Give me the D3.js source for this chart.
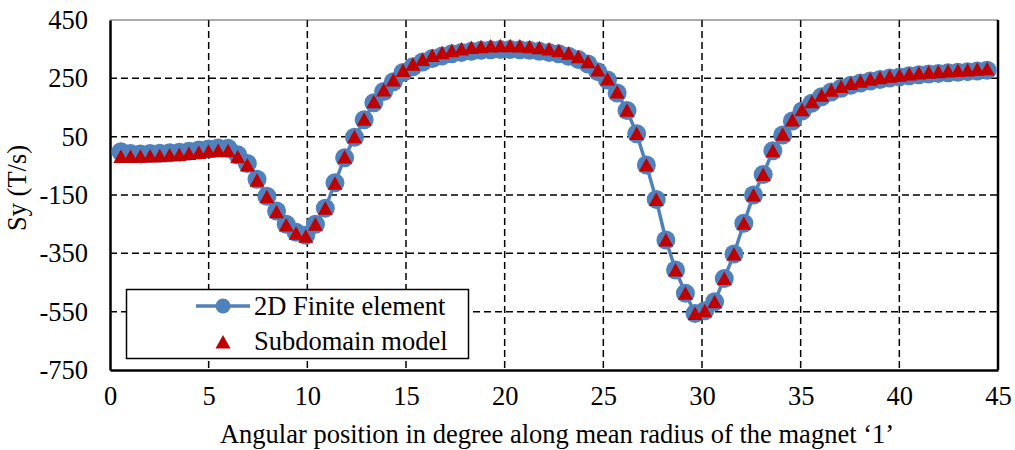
<!DOCTYPE html>
<html>
<head>
<meta charset="utf-8">
<script src="https://cdn.jsdelivr.net/npm/d3@7"></script>
<style>
body { margin: 0; background: #fff; }
text { font-family: "Liberation Serif", "Times New Roman", serif; fill: #000; }
</style>
</head>
<body>
<div id="chart"></div>
<script>
// angular position (deg) of each sample
var angles = [0.55, 1.04, 1.54, 2.03, 2.52, 3.02, 3.51, 4.00, 4.50, 4.99,
  5.48, 5.98, 6.47, 6.96, 7.45, 7.95, 8.44, 8.93, 9.43, 9.92,
  10.41, 10.91, 11.40, 11.89, 12.39, 12.88, 13.37, 13.87, 14.36, 14.85,
  15.35, 15.84, 16.33, 16.83, 17.32, 17.81, 18.31, 18.80, 19.29, 19.78,
  20.28, 20.77, 21.26, 21.76, 22.25, 22.74, 23.24, 23.73, 24.22, 24.72,
  25.21, 25.70, 26.20, 26.69, 27.18, 27.68, 28.17, 28.66, 29.16, 29.65,
  30.14, 30.64, 31.13, 31.62, 32.12, 32.61, 33.10, 33.59, 34.09, 34.58,
  35.07, 35.57, 36.06, 36.55, 37.05, 37.54, 38.03, 38.53, 39.02, 39.51,
  40.01, 40.50, 40.99, 41.49, 41.98, 42.47, 42.97, 43.46, 43.95, 44.45];

var finiteElement = [-2, -8, -9, -8, -7, -5, -3, 0, 4, 8,
  11, 10, -12, -42, -96, -154, -205, -250, -278, -288,
  -250, -195, -108, -22, 48, 108, 166, 205, 238, 270,
  290, 306, 318, 327, 334, 339, 343, 346, 348, 349,
  349, 348, 346, 343, 339, 334, 326, 315, 299, 273,
  244, 200, 140, 60, -47, -165, -304, -407, -487, -556,
  -547, -516, -436, -352, -247, -150, -80, 2, 56, 104,
  138, 165, 187, 203, 216, 226, 234, 241, 246, 251,
  255, 259, 262, 265, 267, 269, 271, 273, 275, 278];

var subdomainModel = [-18, -18, -17, -16, -15, -13, -11, -8, -4, 0,
  3, 2, -19, -47, -99, -156, -207, -253, -281, -291,
  -250, -195, -110, -20, 50, 110, 170, 210, 244, 277,
  298, 315, 328, 338, 345, 351, 356, 358, 361, 362,
  362, 361, 358, 355, 351, 345, 336, 324, 307, 279,
  248, 203, 141, 61, -47, -165, -304, -407, -487, -556,
  -547, -516, -436, -352, -247, -150, -80, 2, 58, 107,
  142, 170, 192, 209, 222, 232, 240, 247, 252, 257,
  261, 265, 268, 271, 273, 275, 277, 279, 281, 283];

var xTicks = [0, 5, 10, 15, 20, 25, 30, 35, 40, 45];
var yTicks = [450, 250, 50, -150, -350, -550, -750];

var width = 1015, height = 450;
var margin = {top: 20, right: 17, bottom: 80, left: 110};
var plotW = width - margin.left - margin.right;
var plotH = height - margin.top - margin.bottom;
var fontSize = 26.5;

var blue = '#4f81bd', red = '#c00000';

var svg = d3.select('#chart').append('svg')
  .attr('width', width)
  .attr('height', height);

var x = d3.scaleLinear().domain([0, 45]).range([0, plotW]);
var y = d3.scaleLinear().domain([-750, 450]).range([plotH, 0]);

var g = svg.append('g')
  .attr('transform', 'translate(' + margin.left + ',' + margin.top + ')');

// grid
g.selectAll('.hgrid')
  .data(yTicks.slice(1, -1))
  .enter().append('line')
  .attr('x1', 0).attr('x2', plotW)
  .attr('y1', function(d) { return y(d); })
  .attr('y2', function(d) { return y(d); })
  .attr('stroke', '#000').attr('stroke-width', 1.5)
  .attr('stroke-dasharray', '7,4');

g.selectAll('.vgrid')
  .data(xTicks.slice(1, -1))
  .enter().append('line')
  .attr('y1', 0).attr('y2', plotH)
  .attr('x1', function(d) { return x(d); })
  .attr('x2', function(d) { return x(d); })
  .attr('stroke', '#000').attr('stroke-width', 1.5)
  .attr('stroke-dasharray', '7,4');

// frame
g.append('line').attr('x1', 0).attr('x2', plotW).attr('y1', 0).attr('y2', 0)
  .attr('stroke', '#555').attr('stroke-width', 1);
g.append('line').attr('x1', plotW).attr('x2', plotW).attr('y1', 0).attr('y2', plotH)
  .attr('stroke', '#000').attr('stroke-width', 2.5);

// axes (plain hyphen for negatives, like the original)
var fmt = function(d) { return String(d); };
var yAxis = g.append('g')
  .call(d3.axisLeft(y).tickValues(yTicks).tickSize(0).tickPadding(22).tickFormat(fmt));
var xAxis = g.append('g')
  .attr('transform', 'translate(0,' + plotH + ')')
  .call(d3.axisBottom(x).tickValues(xTicks).tickSize(0).tickPadding(16).tickFormat(fmt));

[yAxis, xAxis].forEach(function(a) {
  a.select('.domain').attr('stroke', '#000').attr('stroke-width', 2.5);
  a.selectAll('text')
    .attr('font-size', fontSize)
    .attr('font-family', '"Liberation Serif", "Times New Roman", serif');
});

// series
var pts = angles.map(function(a, i) {
  return {x: a, fe: finiteElement[i], sd: subdomainModel[i]};
});

var line = d3.line()
  .x(function(d) { return x(d.x); })
  .y(function(d) { return y(d.fe); });

g.append('path')
  .datum(pts)
  .attr('d', line)
  .attr('fill', 'none')
  .attr('stroke', blue)
  .attr('stroke-width', 3.5);

g.selectAll('.fe')
  .data(pts)
  .enter().append('circle')
  .attr('cx', function(d) { return x(d.x); })
  .attr('cy', function(d) { return y(d.fe); })
  .attr('r', 9.5)
  .attr('fill', blue);

var tri = 'M0,-7L7.5,6.5L-7.5,6.5Z';

g.selectAll('.sd')
  .data(pts)
  .enter().append('path')
  .attr('d', tri)
  .attr('transform', function(d) { return 'translate(' + x(d.x) + ',' + y(d.sd) + ')'; })
  .attr('fill', red);

// titles
svg.append('text')
  .attr('x', margin.left + plotW / 2 + 3)
  .attr('y', 443)
  .attr('text-anchor', 'middle')
  .attr('font-size', fontSize)
  .text('Angular position in degree along mean radius of the magnet \u20181\u2019');

svg.append('text')
  .attr('transform', 'translate(26,' + (margin.top + plotH / 2 - 7) + ') rotate(-90)')
  .attr('text-anchor', 'middle')
  .attr('font-size', fontSize)
  .text('Sy (T/s)');

// legend
var lg = svg.append('g');
lg.append('rect')
  .attr('x', 126.5).attr('y', 289.5)
  .attr('width', 342).attr('height', 69)
  .attr('fill', '#fff').attr('stroke', '#000').attr('stroke-width', 1.5);

lg.append('line')
  .attr('x1', 196).attr('x2', 250).attr('y1', 306).attr('y2', 306)
  .attr('stroke', blue).attr('stroke-width', 3.5);
lg.append('circle').attr('cx', 223).attr('cy', 306).attr('r', 7.5).attr('fill', blue);
lg.append('text').attr('x', 254).attr('y', 315).attr('font-size', fontSize).text('2D Finite element');

lg.append('path').attr('d', tri).attr('transform', 'translate(223,342)').attr('fill', red);
lg.append('text').attr('x', 254).attr('y', 350).attr('font-size', fontSize).text('Subdomain model');
</script>
</body>
</html>
